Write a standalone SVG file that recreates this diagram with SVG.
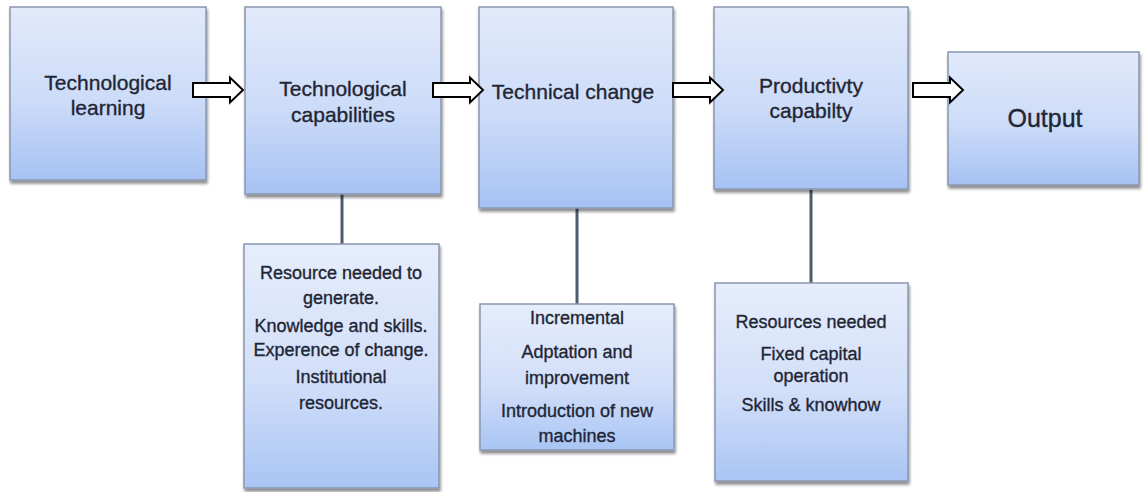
<svg xmlns="http://www.w3.org/2000/svg" width="1144" height="492" viewBox="0 0 1144 492">
  <style>
    .box { fill: url(#boxFill); stroke: #8a97b0; stroke-width: 1.5; filter: url(#shadow); }
    .sub { fill: url(#subFill); stroke: #8a97b0; stroke-width: 1.5; filter: url(#shadow); }
    .lbl { font-family: "Liberation Sans", Arial, sans-serif; font-size: 21px; fill: #1f2635; stroke: #1f2635; stroke-width: 0.35; text-anchor: middle; }
    .big { font-size: 25px; }
    .small { font-family: "Liberation Sans", Arial, sans-serif; font-size: 18px; fill: #1f2635; stroke: #1f2635; stroke-width: 0.35; text-anchor: middle; }
    .link { stroke: #4d5b70; stroke-width: 3; fill: none; }
    .arrow { fill: #ffffff; stroke: #000000; stroke-width: 2; stroke-linejoin: miter; }
  </style>
  <defs>
    <linearGradient id="boxFill" x1="0" y1="0" x2="0" y2="1">
      <stop offset="0" stop-color="#e2eafb"/>
      <stop offset="0.55" stop-color="#ccdbf8"/>
      <stop offset="1" stop-color="#a6c2f3"/>
    </linearGradient>
    <linearGradient id="subFill" x1="0" y1="0" x2="0" y2="1">
      <stop offset="0" stop-color="#e6edfc"/>
      <stop offset="0.55" stop-color="#d2dff9"/>
      <stop offset="1" stop-color="#a9c5f4"/>
    </linearGradient>
    <filter id="shadow" x="-5%" y="-5%" width="112%" height="115%">
      <feGaussianBlur in="SourceAlpha" stdDeviation="1.5"/>
      <feOffset dx="1" dy="2.5" result="off"/>
      <feComponentTransfer><feFuncA type="linear" slope="0.45"/></feComponentTransfer>
      <feMerge><feMergeNode/><feMergeNode in="SourceGraphic"/></feMerge>
    </filter>
    <!-- block arrow pointing right, origin at the left end of the shaft, centred vertically -->
    <path id="blockArrow" d="M0,-7 H37 V-12.5 L50,0 L37,12.5 V7 H0 Z"/>
  </defs>

  <rect width="1144" height="492" fill="#ffffff"/>

  <!-- vertical links from stages to their detail boxes -->
  <g id="connectors">
    <line class="link" x1="342" y1="194" x2="342" y2="244"/>
    <line class="link" x1="577" y1="208" x2="577" y2="304"/>
    <line class="link" x1="811" y1="189" x2="811" y2="283"/>
  </g>

  <g id="tech-learning">
    <rect class="box" x="10" y="7" width="196" height="173"/>
    <text class="lbl" x="108" y="90">Technological</text>
    <text class="lbl" x="108" y="115">learning</text>
  </g>

  <g id="tech-capabilities">
    <rect class="box" x="245" y="7" width="196" height="187"/>
    <text class="lbl" x="343" y="96">Technological</text>
    <text class="lbl" x="343" y="122">capabilities</text>
  </g>

  <g id="technical-change">
    <rect class="box" x="479" y="7" width="194" height="201"/>
    <text class="lbl" x="573" y="99">Technical change</text>
  </g>

  <g id="productivity">
    <rect class="box" x="714" y="7" width="194" height="182"/>
    <text class="lbl" x="811" y="93">Productivty</text>
    <text class="lbl" x="811" y="118">capabilty</text>
  </g>

  <g id="output">
    <rect class="box" x="948" y="52" width="191" height="133"/>
    <text class="lbl big" x="1045" y="127">Output</text>
  </g>

  <g id="capability-resources">
    <rect class="sub" x="244" y="244" width="195" height="244"/>
    <text class="small" x="341" y="279">Resource needed to</text>
    <text class="small" x="341" y="304">generate.</text>
    <text class="small" x="341" y="332">Knowledge and skills.</text>
    <text class="small" x="341" y="356">Experence of change.</text>
    <text class="small" x="341" y="383">Institutional</text>
    <text class="small" x="341" y="409">resources.</text>
  </g>

  <g id="change-types">
    <rect class="sub" x="480" y="304" width="194" height="146"/>
    <text class="small" x="577" y="324">Incremental</text>
    <text class="small" x="577" y="358">Adptation and</text>
    <text class="small" x="577" y="384">improvement</text>
    <text class="small" x="577" y="417">Introduction of new</text>
    <text class="small" x="577" y="442">machines</text>
  </g>

  <g id="productivity-resources">
    <rect class="sub" x="715" y="283" width="193" height="198"/>
    <text class="small" x="811" y="328">Resources needed</text>
    <text class="small" x="811" y="360">Fixed capital</text>
    <text class="small" x="811" y="382">operation</text>
    <text class="small" x="811" y="411">Skills &amp; knowhow</text>
  </g>

  <g id="flow-arrows">
    <use href="#blockArrow" class="arrow" x="193" y="90"/>
    <use href="#blockArrow" class="arrow" x="433" y="90"/>
    <use href="#blockArrow" class="arrow" x="673" y="90"/>
    <use href="#blockArrow" class="arrow" x="913" y="90"/>
  </g>
</svg>
